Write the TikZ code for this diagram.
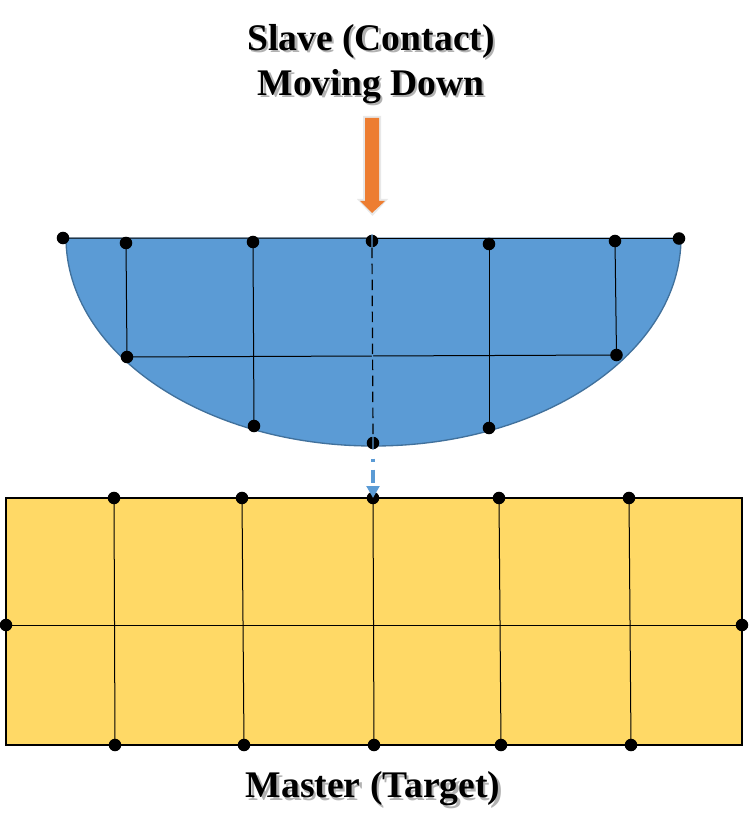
\documentclass[tikz,border=0pt]{standalone}
\usepackage{fontspec}
\setmainfont{Liberation Serif}
\usetikzlibrary{arrows.meta}
\definecolor{blueF}{HTML}{5B9BD5}
\definecolor{blueE}{HTML}{41719C}
\definecolor{yellowF}{HTML}{FFD966}
\definecolor{orangeF}{HTML}{ED7D31}
\newcommand{\softshadow}[1]{\leavevmode\rlap{\raisebox{-1.8pt}{\hspace{1.8pt}\textcolor{black!30}{#1}}}#1}
\tikzset{
  dot/.style={circle,fill=black,inner sep=0pt,minimum size=9.4pt},
  meshline/.style={draw=black,line width=0.75pt},
  title/.style={font=\bfseries\fontsize{28.2}{32}\selectfont,inner sep=0pt,anchor=center},
}
\begin{document}
\begin{tikzpicture}[x=0.75pt,y=-0.75pt]
\useasboundingbox (0,0) rectangle (749,834);
\fill[white] (0,0) rectangle (749,834);

% titles with soft shadow
\node[title] (t1) at (371,42.5) {\softshadow{Slave (Contact)}};
\node[title] (t2) at (371,87.5) {\softshadow{Moving Down}};
\node[title] (t3) at (373,790) {\softshadow{Master (Target)}};

% orange arrow
\fill[black!9] (363,116) -- (381,116) -- (381,199) -- (388,199) -- (372.5,216) -- (357,199) -- (363,199) -- cycle;
\fill[orangeF] (365,118) -- (379,118) -- (379,201) -- (385,201) -- (372,213) -- (360,201) -- (365,201) -- cycle;

% master block
\draw[fill=yellowF,draw=black,line width=1.3pt] (6,498) rectangle (742,745);

% slave half ellipse
\fill[blueF] (66,237.5) arc[start angle=180,end angle=360,x radius=307.5,y radius=-208.5] -- cycle;
\draw[blueE,line width=1pt] (66,237.5) arc[start angle=180,end angle=360,x radius=307.5,y radius=-208.5];

% slave nodes
\node[dot] (a) at (63,238) {};
\node[dot] (b) at (679,238.5) {};
\node[dot] (s1) at (126,243) {};
\node[dot] (s2) at (253,242) {};
\node[dot] (s3) at (372,241) {};
\node[dot] (s4) at (489,244) {};
\node[dot] (s5) at (615,241) {};
\node[dot] (l1) at (127,357) {};
\node[dot] (l2) at (254,426) {};
\node[dot] (l3) at (373,443) {};
\node[dot] (l4) at (489,428) {};
\node[dot] (l5) at (616.5,355) {};

\draw[meshline] (a.center) -- (b.center);
\draw[meshline] (s1.center) -- (l1.center);
\draw[meshline] (s2.center) -- (l2.center);
\draw[meshline] (s4.center) -- (l4.center);
\draw[meshline] (s5.center) -- (l5.center);
\draw[meshline] (l1.center) -- (l5.center);
\draw[blueF,line width=1pt] (s3.north) -- (l3.south);
\draw[black,line width=0.9pt,dash pattern=on 8pt off 4pt] (s3.south) -- (l3.north);

% master nodes
\node[dot] (mt1) at (114,498) {};
\node[dot] (mt2) at (242,498) {};
\node[dot] (mt3) at (373,498) {};
\node[dot] (mt4) at (499,498) {};
\node[dot] (mt5) at (629,498) {};
\node[dot] (mb1) at (115,745) {};
\node[dot] (mb2) at (244,745) {};
\node[dot] (mb3) at (374,745) {};
\node[dot] (mb4) at (501,745) {};
\node[dot] (mb5) at (631,745) {};
\node[dot] (ml) at (6,625) {};
\node[dot] (mr) at (742,625) {};
\foreach \i in {1,...,5}{\draw[meshline] (mt\i.center) -- (mb\i.center);}
\draw[meshline] (ml.center) -- (mr.center);

% blue dash-dot arrow
\draw[blueF,line width=2.6pt,dash pattern=on 0pt off 6.75pt on 2.25pt off 6pt on 9.75pt off 9pt,
  -{Triangle[width=9.5pt,length=9pt]}] (l3.south) -- (mt3.center);
\end{tikzpicture}
\end{document}
